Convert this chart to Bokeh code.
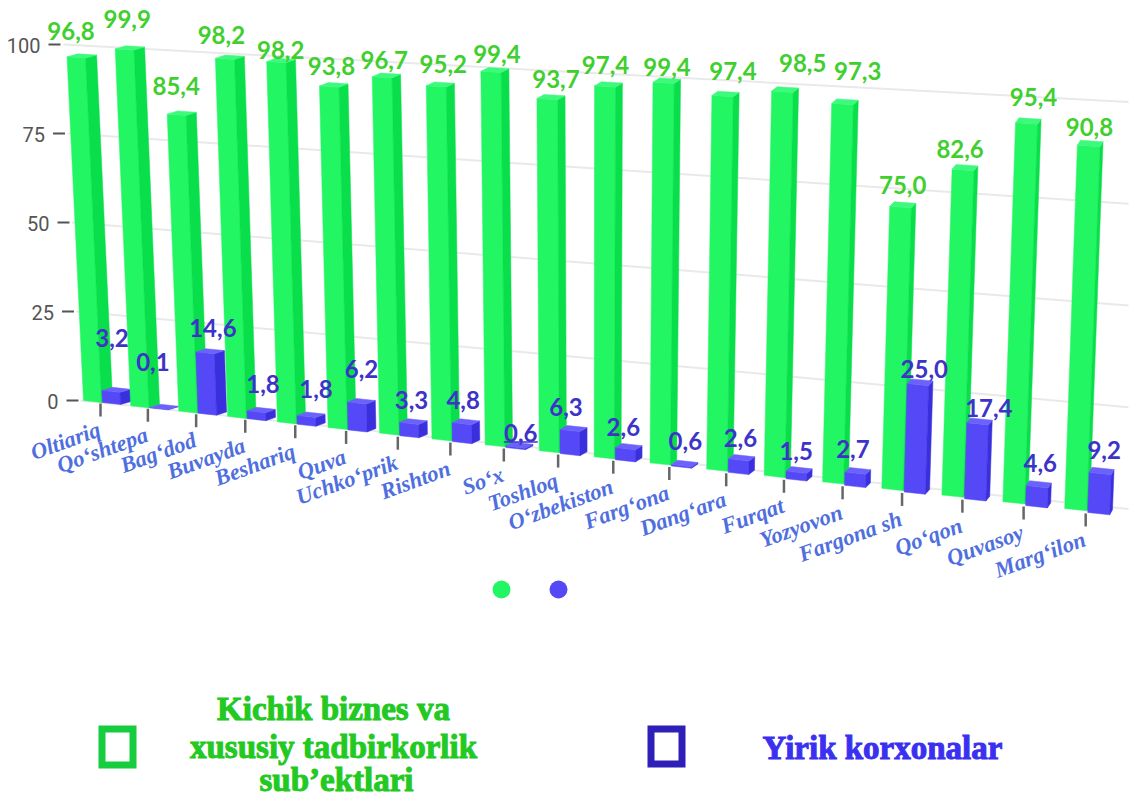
from math import radians
from bokeh.plotting import figure
from bokeh.models import Range1d, ColumnDataSource
from bokeh.core.properties import value
from bokeh.embed import file_html
from bokeh.resources import INLINE

categories = ["Oltiariq", "Qo‘shtepa", "Bag‘dod", "Buvayda", "Beshariq", "Quva", "Uchko‘prik",
              "Rishton", "So‘x", "Toshloq", "O‘zbekiston", "Farg‘ona", "Dang‘ara", "Furqat",
              "Yozyovon", "Fargona sh", "Qo‘qon", "Quvasoy", "Marg‘ilon"]
small_labels = [96.8, 99.9, 85.4, 98.2, 98.2, 93.8, 96.7, 95.2, 99.4, 93.7, 97.4, 99.4, 97.4, 98.5,
                97.3, 75.0, 82.6, 95.4, 90.8]
large_labels = [3.2, 0.1, 14.6, 1.8, 1.8, 6.2, 3.3, 4.8, 0.6, 6.3, 2.6, 0.6, 2.6, 1.5, 2.7, 25.0,
                17.4, 4.6, 9.2]
small_drawn = [96.8, 99.9, 82.6, 99.0, 99.0, 93.2, 96.7, 95.2, 100.0, 93.7, 98.0, 99.9, 97.4, 99.5,
               97.3, 72.0, 82.6, 95.4, 90.8]
large_drawn = [3.4, 0.1, 17.0, 2.2, 2.4, 7.6, 3.6, 5.1, 0.4, 6.4, 3.2, 0.4, 3.5, 2.0, 3.4, 27.6,
               19.2, 5.0, 10.0]
y_ticks = [0, 25, 50, 75, 100]
legend_small = ["Kichik biznes va", "xususiy tadbirkorlik", "sub’ektlari"]
legend_large = "Yirik korxonalar"

# Label nudges (layout only)
small_dx = [4, 12, 9, 6, 14, 12, 12, 17, 16, 19, 11, 14, 21, 31, 26, 13, 8, 18, 12]
small_dy = [-26, -30, -28, -23, -12, -20, -17, -22, -17, -19, -21, -15, -24, -28, -32, -21, -20, -26, -18]
large_dx = [10, 3, 17, 16, 19, 14, 12, 11, 15, 6, 8, 14, 12, 10, 8, 17, 22, 14, 15]
large_dy = [-52, -45, -24, -27, -26, -33, -22, -23, -13, -22, -21, -23, -21, -20, -23, -15, -15, -23, -22]

W, H = 1129, 798
GREEN = ("#22f763", "#08df4a", "#3df97c")
BLUE = ("#5448f7", "#3a2fdd", "#6b62fb")

p = figure(width=W, height=H, x_range=Range1d(0, W), y_range=Range1d(H, 0),
           output_backend="svg", toolbar_location=None, min_border=0,
           outline_line_color=None, background_fill_color="white")
p.axis.visible = False
p.grid.visible = False


def xg(i):
    return 83 + 47.2 * i + 0.43 * i * (i - 1)


def frac(x):
    return (x - 83) / 981


def base_y(x):
    return 400 + 0.11 * (x - 83)


def lean(x):
    f = frac(x)
    return -17 + 31 * f + 42 * max(0, f - 0.46) * max(0, 1 - f)


def unit(x):
    return 3.55 + 0.45 * frac(x)


def point(x0, y0, v):
    """Front-floor point x0,y0 raised by value v in the perspective of the chart."""
    return x0 + lean(x0) * v / 100, y0 - unit(x0) * v


def bar_faces(x0, y0, v, width, colors):
    depth_dx = 11 - 8 * frac(x0)
    depth_dy = -3 - 2 * frac(x0)
    xr, yr = x0 + width, y0 + 0.11 * width
    fl = point(x0, y0, v)
    fr = point(xr, yr, v)
    br0 = (xr + depth_dx, yr + depth_dy)
    br = (fr[0] + depth_dx, fr[1] + depth_dy)
    bl = (fl[0] + depth_dx, fl[1] + depth_dy)
    faces = [
        ([x0, xr, fr[0], fl[0]], [y0, yr, fr[1], fl[1]], colors[0]),
        ([xr, br0[0], br[0], fr[0]], [yr, br0[1], br[1], fr[1]], colors[1]),
        ([fl[0], fr[0], br[0], bl[0]], [fl[1], fr[1], br[1], bl[1]], colors[2]),
    ]
    return faces, fl


grid_x0, grid_x1 = [], []
grid_y0, grid_y1 = [], []
for t in y_ticks:
    grid_x0.append(80 - 0.17 * t)
    grid_x1.append(1128)
    grid_y0.append(400 - 3.56 * t)
    grid_y1.append(508.5 - 4.07 * t)
p.segment(grid_x0, grid_y0, grid_x1, grid_y1, line_color="#e9e9e9", line_width=2)

# Axis ticks and labels on the left
lab_x = [58 - 0.18 * t for t in y_ticks]
p.segment([x + 8 for x in lab_x], grid_y0, [x + 20 for x in lab_x], grid_y0,
          line_color="#555555", line_width=2)
p.text(lab_x, [y + 1 for y in grid_y0], text=[str(t) for t in y_ticks], text_font=value("Roboto"),
       text_font_size=value("20px"), text_color="#555555", text_align="right", text_baseline="middle")

xs, ys, fills = [], [], []
tick_x0, tick_y0, tick_x1, tick_y1 = [], [], [], []
sg_x, sg_y, sg_t = [], [], []
lg_x, lg_y, lg_t = [], [], []
cat_x, cat_y = [], []
for i, name in enumerate(categories):
    x0 = xg(i)
    y0 = base_y(x0)
    w = 18 + 4 * frac(x0)
    faces, top = bar_faces(x0, y0, small_drawn[i], w, GREEN)
    for fx, fy, c in faces:
        xs.append(fx); ys.append(fy); fills.append(c)
    sg_x.append(top[0] + small_dx[i])
    sg_y.append(top[1] + small_dy[i])
    sg_t.append(f"{small_labels[i]:.1f}".replace(".", ","))

    bx = x0 + w + 1
    by = y0 + 2 + 2 * frac(x0)
    faces, top = bar_faces(bx, by, large_drawn[i], w, BLUE)
    for fx, fy, c in faces:
        xs.append(fx); ys.append(fy); fills.append(c)
    lg_x.append(top[0] + large_dx[i])
    lg_y.append(top[1] + large_dy[i])
    lg_t.append(f"{large_labels[i]:.1f}".replace(".", ","))

    tick_x0.append(bx - 2); tick_y0.append(by + 1)
    tick_x1.append(bx - 2); tick_y1.append(by + 14)
    cat_x.append(bx - 3); cat_y.append(by + 26)

p.segment(tick_x0, tick_y0, tick_x1, tick_y1, line_color="#666666", line_width=2.5)
p.patches("xs", "ys", source=ColumnDataSource(dict(xs=xs, ys=ys, fill=fills)), fill_color="fill",
          line_color="fill", line_width=0.5)

p.text(sg_x, sg_y, text=sg_t, text_font=value("Lato"), text_font_size=value("24px"),
       text_font_style="bold", text_color="#3fcf2e", text_align="center", text_baseline="middle")
p.text(lg_x, lg_y, text=lg_t, text_font=value("Lato"), text_font_size=value("24px"),
       text_font_style="bold", text_color="#3d33c8", text_align="center", text_baseline="middle")
# the stray rule under So'x's label
p.segment([lg_x[8] - 17], [lg_y[8] + 9], [lg_x[8] + 17], [lg_y[8] + 9], line_color="#3d33c8", line_width=1.5)

p.text(cat_x, cat_y, text=categories, angle=radians(20), text_font=value("Liberation Serif"),
       text_font_size=value("22.5px"), text_font_style="bold italic", text_color="#4f6fe0",
       text_align="right", text_baseline="middle")

# Legend dots
p.scatter([501, 558], [589, 589], size=18, fill_color=[GREEN[0], BLUE[0]], line_color=None)
# Legend boxes
p.rect([117], [746.5], width=31, height=36, fill_color=None, line_color="#16cc3f", line_width=7,
       line_join="miter")
p.rect([666], [746], width=31, height=35, fill_color=None, line_color="#2e1fb8", line_width=7,
       line_join="miter")
p.text([333, 333, 336], [708, 746, 779], text=legend_small, text_font=value("Liberation Serif"),
       text_font_size=value("33px"), text_font_style="bold", text_color="#22c922",
       text_outline_color="#22c922", text_align="center", text_baseline="middle")
p.text([882], [747], text=[legend_large], text_font=value("Liberation Serif"),
       text_font_size=value("33px"), text_font_style="bold", text_color="#3b30f0",
       text_outline_color="#3b30f0", text_align="center", text_baseline="middle")

open("out.html", "w").write(file_html(p, INLINE))
